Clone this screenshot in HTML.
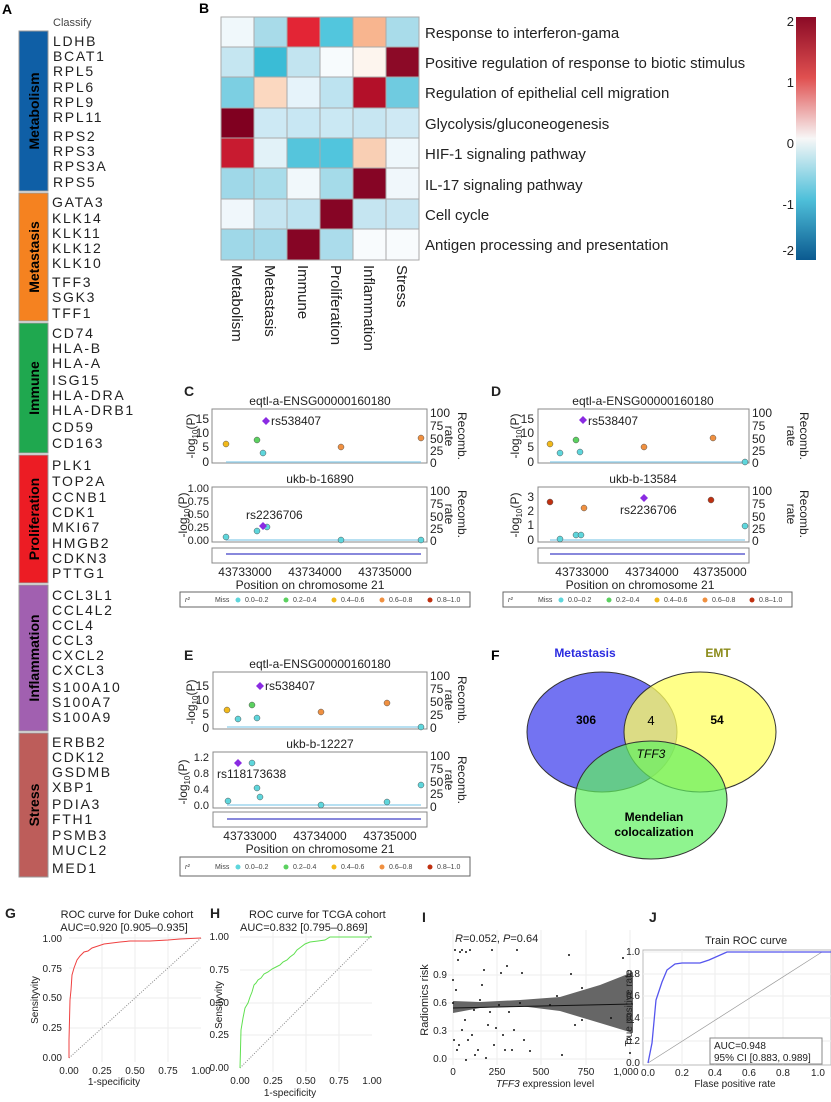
<!DOCTYPE html>
<html><head><meta charset="utf-8"><style>
html,body{margin:0;padding:0;background:#fff}
svg{display:block;font-family:"Liberation Sans",sans-serif}
</style></head><body>
<svg width="831" height="1102" viewBox="0 0 831 1102" xmlns="http://www.w3.org/2000/svg">
<!-- Panel A -->
<text x="2" y="14" font-size="14" font-weight="bold">A</text>
<text x="53" y="26" font-size="11" fill="#444">Classify</text>
<rect x="19" y="31" width="29" height="160" fill="#0f5fa6" stroke="#999"/>
<rect x="19" y="193" width="29" height="128" fill="#f58220" stroke="#999"/>
<rect x="19" y="323" width="29" height="130" fill="#1fa84f" stroke="#999"/>
<rect x="19" y="455" width="29" height="128" fill="#ec1c24" stroke="#999"/>
<rect x="19" y="585" width="29" height="146" fill="#a160b0" stroke="#999"/>
<rect x="19" y="733" width="29" height="144" fill="#bd5d5a" stroke="#999"/>
<g font-size="14" font-weight="bold" fill="#000">
<text transform="translate(39,111) rotate(-90)" text-anchor="middle">Metabolism</text>
<text transform="translate(39,257) rotate(-90)" text-anchor="middle">Metastasis</text>
<text transform="translate(39,388) rotate(-90)" text-anchor="middle">Immune</text>
<text transform="translate(39,519) rotate(-90)" text-anchor="middle">Proliferation</text>
<text transform="translate(39,658) rotate(-90)" text-anchor="middle">Inflammation</text>
<text transform="translate(39,805) rotate(-90)" text-anchor="middle">Stress</text>
</g>
<g font-size="14" fill="#222" letter-spacing="1.7">
<text x="53" y="46">LDHB</text><text x="53" y="61">BCAT1</text><text x="53" y="76">RPL5</text><text x="53" y="92">RPL6</text><text x="53" y="107">RPL9</text><text x="53" y="122">RPL11</text><text x="53" y="141">RPS2</text><text x="53" y="156">RPS3</text><text x="53" y="171">RPS3A</text><text x="53" y="187">RPS5</text>
<text x="52" y="207">GATA3</text><text x="52" y="223">KLK14</text><text x="52" y="238">KLK11</text><text x="52" y="253">KLK12</text><text x="52" y="268">KLK10</text><text x="52" y="287">TFF3</text><text x="52" y="302">SGK3</text><text x="52" y="318">TFF1</text>
<text x="52" y="338">CD74</text><text x="52" y="353">HLA-B</text><text x="52" y="368">HLA-A</text><text x="52" y="385">ISG15</text><text x="52" y="400">HLA-DRA</text><text x="52" y="415">HLA-DRB1</text><text x="52" y="432">CD59</text><text x="52" y="448">CD163</text>
<text x="52" y="470">PLK1</text><text x="52" y="486">TOP2A</text><text x="52" y="502">CCNB1</text><text x="52" y="517">CDK1</text><text x="52" y="532">MKI67</text><text x="52" y="548">HMGB2</text><text x="52" y="563">CDKN3</text><text x="52" y="578">PTTG1</text>
<text x="52" y="600">CCL3L1</text><text x="52" y="615">CCL4L2</text><text x="52" y="630">CCL4</text><text x="52" y="645">CCL3</text><text x="52" y="660">CXCL2</text><text x="52" y="675">CXCL3</text><text x="52" y="692">S100A10</text><text x="52" y="707">S100A7</text><text x="52" y="722">S100A9</text>
<text x="52" y="747">ERBB2</text><text x="52" y="762">CDK12</text><text x="52" y="777">GSDMB</text><text x="52" y="792">XBP1</text><text x="52" y="809">PDIA3</text><text x="52" y="824">FTH1</text><text x="52" y="840">PSMB3</text><text x="52" y="855">MUCL2</text><text x="52" y="873">MED1</text>
</g>
<!-- Panel B -->
<text x="199" y="13" font-size="14" font-weight="bold">B</text>
<g stroke="#aaa" stroke-width="1">
<rect x="221" y="17" width="33" height="30" fill="#f0f8fb"/><rect x="254" y="17" width="33" height="30" fill="#a8dbe9"/><rect x="287" y="17" width="33" height="30" fill="#e32535"/><rect x="320" y="17" width="33" height="30" fill="#52c6dd"/><rect x="353" y="17" width="33" height="30" fill="#f8b58f"/><rect x="386" y="17" width="33" height="30" fill="#a9dcea"/>
<rect x="221" y="47" width="33" height="30" fill="#c5e6f1"/><rect x="254" y="47" width="33" height="30" fill="#3abcd6"/><rect x="287" y="47" width="33" height="30" fill="#c2e4f0"/><rect x="320" y="47" width="33" height="30" fill="#f7fbfd"/><rect x="353" y="47" width="33" height="30" fill="#fdf5ee"/><rect x="386" y="47" width="33" height="30" fill="#8c0a27"/>
<rect x="221" y="77" width="33" height="31" fill="#7ccfe2"/><rect x="254" y="77" width="33" height="31" fill="#fbd8c0"/><rect x="287" y="77" width="33" height="31" fill="#e6f3fa"/><rect x="320" y="77" width="33" height="31" fill="#bde3f0"/><rect x="353" y="77" width="33" height="31" fill="#b31029"/><rect x="386" y="77" width="33" height="31" fill="#6fcbe0"/>
<rect x="221" y="108" width="33" height="30" fill="#800020"/><rect x="254" y="108" width="33" height="30" fill="#cde9f4"/><rect x="287" y="108" width="33" height="30" fill="#c8e7f3"/><rect x="320" y="108" width="33" height="30" fill="#cae8f3"/><rect x="353" y="108" width="33" height="30" fill="#c7e6f2"/><rect x="386" y="108" width="33" height="30" fill="#cfe9f4"/>
<rect x="221" y="138" width="33" height="30" fill="#c81b30"/><rect x="254" y="138" width="33" height="30" fill="#e2f2f8"/><rect x="287" y="138" width="33" height="30" fill="#55c5dc"/><rect x="320" y="138" width="33" height="30" fill="#51c5dd"/><rect x="353" y="138" width="33" height="30" fill="#f9cfb4"/><rect x="386" y="138" width="33" height="30" fill="#eef7fb"/>
<rect x="221" y="168" width="33" height="31" fill="#9fd8e8"/><rect x="254" y="168" width="33" height="31" fill="#a8dcea"/><rect x="287" y="168" width="33" height="31" fill="#f1f8fb"/><rect x="320" y="168" width="33" height="31" fill="#a5dbe9"/><rect x="353" y="168" width="33" height="31" fill="#860525"/><rect x="386" y="168" width="33" height="31" fill="#f0f7fb"/>
<rect x="221" y="199" width="33" height="30" fill="#f0f7fb"/><rect x="254" y="199" width="33" height="30" fill="#c5e5f1"/><rect x="287" y="199" width="33" height="30" fill="#bee3f0"/><rect x="320" y="199" width="33" height="30" fill="#860525"/><rect x="353" y="199" width="33" height="30" fill="#c5e5f1"/><rect x="386" y="199" width="33" height="30" fill="#c8e6f2"/>
<rect x="221" y="229" width="33" height="31" fill="#9fd8e8"/><rect x="254" y="229" width="33" height="31" fill="#a3d9e9"/><rect x="287" y="229" width="33" height="31" fill="#860525"/><rect x="320" y="229" width="33" height="31" fill="#abdceb"/><rect x="353" y="229" width="33" height="31" fill="#f8fbfd"/><rect x="386" y="229" width="33" height="31" fill="#f8fbfd"/>
</g>
<g font-size="15" fill="#222">
<text x="425" y="38">Response to interferon-gama</text>
<text x="425" y="68">Positive regulation of response to biotic stimulus</text>
<text x="425" y="98">Regulation of epithelial cell migration</text>
<text x="425" y="129">Glycolysis/gluconeogenesis</text>
<text x="425" y="159">HIF-1 signaling pathway</text>
<text x="425" y="190">IL-17 signaling pathway</text>
<text x="425" y="220">Cell cycle</text>
<text x="425" y="250">Antigen processing and presentation</text>
</g>
<g font-size="15" fill="#222">
<text transform="translate(232,265) rotate(90)">Metabolism</text>
<text transform="translate(265,265) rotate(90)">Metastasis</text>
<text transform="translate(298,265) rotate(90)">Immune</text>
<text transform="translate(331,265) rotate(90)">Proliferation</text>
<text transform="translate(364,265) rotate(90)">Inflammation</text>
<text transform="translate(397,265) rotate(90)">Stress</text>
</g>
<defs><linearGradient id="cb" x1="0" y1="0" x2="0" y2="1">
<stop offset="0" stop-color="#8b0a26"/><stop offset="0.25" stop-color="#e05050"/><stop offset="0.5" stop-color="#f7f7f7"/><stop offset="0.75" stop-color="#4fc0da"/><stop offset="1" stop-color="#0b5a90"/></linearGradient></defs>
<rect x="796" y="17" width="20" height="243" fill="url(#cb)"/>
<g font-size="13" fill="#222"><text x="794" y="26" text-anchor="end">2</text><text x="794" y="87" text-anchor="end">1</text><text x="794" y="148" text-anchor="end">0</text><text x="794" y="209" text-anchor="end">-1</text><text x="794" y="255" text-anchor="end">-2</text></g>

<g font-size="12" fill="#222">
<!-- C -->
<text x="184" y="396" font-size="14" font-weight="bold">C</text>
<text x="320" y="405" text-anchor="middle" font-size="12">eqtl-a-ENSG00000160180</text>
<rect x="212" y="409" width="215" height="54" fill="none" stroke="#888"/>
<line x1="226" y1="462" x2="421" y2="462" stroke="#9fd6ee" stroke-width="1.5"/>
<text x="209" y="423" text-anchor="end">15</text><text x="209" y="437" text-anchor="end">10</text><text x="209" y="451" text-anchor="end">5</text><text x="209" y="466" text-anchor="end">0</text>
<text x="430" y="417">100</text><text x="430" y="430">75</text><text x="430" y="443">50</text><text x="430" y="455">25</text><text x="430" y="467">0</text>
<text transform="translate(195,436) rotate(-90)" text-anchor="middle">-log<tspan font-size="8" dy="3">10</tspan><tspan dy="-3">(P)</tspan></text>
<text transform="translate(458,436) rotate(90)" text-anchor="middle">Recomb.</text><text transform="translate(445,436) rotate(90)" text-anchor="middle">rate</text>
<circle cx="226" cy="444" r="3" fill="#f2b91a" stroke="#555" stroke-width=".5"/><circle cx="257" cy="440" r="3" fill="#5bd160" stroke="#555" stroke-width=".5"/><circle cx="263" cy="453" r="3" fill="#5ed6dc" stroke="#555" stroke-width=".5"/><circle cx="341" cy="447" r="3" fill="#f09040" stroke="#555" stroke-width=".5"/><circle cx="421" cy="438" r="3" fill="#f09040" stroke="#555" stroke-width=".5"/>
<path d="M266 417 l4 4 -4 4 -4 -4z" fill="#8a2be2"/><text x="271" y="425">rs538407</text>
<text x="320" y="483" text-anchor="middle">ukb-b-16890</text>
<rect x="212" y="487" width="215" height="55" fill="none" stroke="#888"/>
<line x1="226" y1="540" x2="421" y2="540" stroke="#9fd6ee" stroke-width="1.5"/>
<g font-size="11"><text x="209" y="492" text-anchor="end">1.00</text><text x="209" y="505" text-anchor="end">0.75</text><text x="209" y="518" text-anchor="end">0.50</text><text x="209" y="531" text-anchor="end">0.25</text><text x="209" y="544" text-anchor="end">0.00</text></g>
<text transform="translate(187,515) rotate(-90)" text-anchor="middle">-log<tspan font-size="8" dy="3">10</tspan><tspan dy="-3">(P)</tspan></text>
<text x="430" y="495">100</text><text x="430" y="508">75</text><text x="430" y="521">50</text><text x="430" y="533">25</text><text x="430" y="545">0</text>
<text transform="translate(458,514) rotate(90)" text-anchor="middle">Recomb.</text><text transform="translate(445,514) rotate(90)" text-anchor="middle">rate</text>
<circle cx="226" cy="537" r="3" fill="#5ed6dc" stroke="#555" stroke-width=".5"/><circle cx="257" cy="531" r="3" fill="#5ed6dc" stroke="#555" stroke-width=".5"/><circle cx="267" cy="527" r="3" fill="#5ed6dc" stroke="#555" stroke-width=".5"/><circle cx="341" cy="540" r="3" fill="#5ed6dc" stroke="#555" stroke-width=".5"/><circle cx="421" cy="540" r="3" fill="#5ed6dc" stroke="#555" stroke-width=".5"/>
<path d="M263 522 l4 4 -4 4 -4 -4z" fill="#8a2be2"/><text x="246" y="519">rs2236706</text>
<rect x="212" y="548" width="215" height="15" fill="none" stroke="#888"/><line x1="226" y1="554" x2="421" y2="554" stroke="#6060d0" stroke-width="1.5"/>
<text x="245" y="576" text-anchor="middle">43733000</text><text x="315" y="576" text-anchor="middle">43734000</text><text x="385" y="576" text-anchor="middle">43735000</text>
<text x="310" y="589" text-anchor="middle">Position on chromosome 21</text>
<rect x="180" y="592" width="290" height="15" fill="none" stroke="#666"/>
<g font-size="7" fill="#444"><text x="185" y="602" font-style="italic">r²</text><text x="215" y="602">Miss</text><circle cx="238" cy="600" r="2.5" fill="#5ed6dc"/><text x="245" y="602">0.0–0.2</text><circle cx="286" cy="600" r="2.5" fill="#5bd160"/><text x="293" y="602">0.2–0.4</text><circle cx="334" cy="600" r="2.5" fill="#f2b91a"/><text x="341" y="602">0.4–0.6</text><circle cx="382" cy="600" r="2.5" fill="#f09040"/><text x="389" y="602">0.6–0.8</text><circle cx="430" cy="600" r="2.5" fill="#c03010"/><text x="437" y="602">0.8–1.0</text></g>

<!-- D -->
<text x="491" y="396" font-size="14" font-weight="bold">D</text>
<text x="643" y="405" text-anchor="middle">eqtl-a-ENSG00000160180</text>
<rect x="538" y="409" width="211" height="54" fill="none" stroke="#888"/>
<line x1="550" y1="462" x2="745" y2="462" stroke="#9fd6ee" stroke-width="1.5"/>
<text x="534" y="423" text-anchor="end">15</text><text x="534" y="437" text-anchor="end">10</text><text x="534" y="451" text-anchor="end">5</text><text x="534" y="466" text-anchor="end">0</text>
<text transform="translate(519,436) rotate(-90)" text-anchor="middle">-log<tspan font-size="8" dy="3">10</tspan><tspan dy="-3">(P)</tspan></text>
<text x="752" y="417">100</text><text x="752" y="430">75</text><text x="752" y="443">50</text><text x="752" y="455">25</text><text x="752" y="467">0</text>
<text transform="translate(800,436) rotate(90)" text-anchor="middle">Recomb.</text><text transform="translate(787,436) rotate(90)" text-anchor="middle">rate</text>
<circle cx="550" cy="444" r="3" fill="#f2b91a" stroke="#555" stroke-width=".5"/><circle cx="560" cy="453" r="3" fill="#5ed6dc" stroke="#555" stroke-width=".5"/><circle cx="576" cy="440" r="3" fill="#5bd160" stroke="#555" stroke-width=".5"/><circle cx="580" cy="452" r="3" fill="#5ed6dc" stroke="#555" stroke-width=".5"/><circle cx="644" cy="447" r="3" fill="#f09040" stroke="#555" stroke-width=".5"/><circle cx="713" cy="438" r="3" fill="#f09040" stroke="#555" stroke-width=".5"/><circle cx="745" cy="462" r="3" fill="#5ed6dc" stroke="#555" stroke-width=".5"/>
<path d="M583 416 l4 4 -4 4 -4 -4z" fill="#8a2be2"/><text x="588" y="425">rs538407</text>
<text x="643" y="483" text-anchor="middle">ukb-b-13584</text>
<rect x="538" y="487" width="211" height="55" fill="none" stroke="#888"/>
<line x1="550" y1="540" x2="745" y2="540" stroke="#9fd6ee" stroke-width="1.5"/>
<text x="534" y="501" text-anchor="end">3</text><text x="534" y="515" text-anchor="end">2</text><text x="534" y="529" text-anchor="end">1</text><text x="534" y="544" text-anchor="end">0</text>
<text transform="translate(519,515) rotate(-90)" text-anchor="middle">-log<tspan font-size="8" dy="3">10</tspan><tspan dy="-3">(P)</tspan></text>
<text x="752" y="495">100</text><text x="752" y="508">75</text><text x="752" y="521">50</text><text x="752" y="533">25</text><text x="752" y="545">0</text>
<text transform="translate(800,514) rotate(90)" text-anchor="middle">Recomb.</text><text transform="translate(787,514) rotate(90)" text-anchor="middle">rate</text>
<circle cx="550" cy="502" r="3" fill="#c03010" stroke="#555" stroke-width=".5"/><circle cx="560" cy="539" r="3" fill="#5ed6dc" stroke="#555" stroke-width=".5"/><circle cx="584" cy="508" r="3" fill="#f09040" stroke="#555" stroke-width=".5"/><circle cx="576" cy="535" r="3" fill="#5ed6dc" stroke="#555" stroke-width=".5"/><circle cx="581" cy="535" r="3" fill="#5ed6dc" stroke="#555" stroke-width=".5"/><circle cx="711" cy="500" r="3" fill="#c03010" stroke="#555" stroke-width=".5"/><circle cx="745" cy="526" r="3" fill="#5ed6dc" stroke="#555" stroke-width=".5"/>
<path d="M644 494 l4 4 -4 4 -4 -4z" fill="#8a2be2"/><text x="620" y="514">rs2236706</text>
<rect x="538" y="548" width="211" height="15" fill="none" stroke="#888"/><line x1="550" y1="554" x2="745" y2="554" stroke="#6060d0" stroke-width="1.5"/>
<text x="582" y="576" text-anchor="middle">43733000</text><text x="652" y="576" text-anchor="middle">43734000</text><text x="720" y="576" text-anchor="middle">43735000</text>
<text x="640" y="589" text-anchor="middle">Position on chromosome 21</text>
<rect x="503" y="592" width="289" height="15" fill="none" stroke="#666"/>
<g font-size="7" fill="#444"><text x="508" y="602" font-style="italic">r²</text><text x="538" y="602">Miss</text><circle cx="561" cy="600" r="2.5" fill="#5ed6dc"/><text x="568" y="602">0.0–0.2</text><circle cx="609" cy="600" r="2.5" fill="#5bd160"/><text x="616" y="602">0.2–0.4</text><circle cx="657" cy="600" r="2.5" fill="#f2b91a"/><text x="664" y="602">0.4–0.6</text><circle cx="705" cy="600" r="2.5" fill="#f09040"/><text x="712" y="602">0.6–0.8</text><circle cx="752" cy="600" r="2.5" fill="#c03010"/><text x="759" y="602">0.8–1.0</text></g>

<!-- E -->
<text x="184" y="660" font-size="14" font-weight="bold">E</text>
<text x="320" y="668" text-anchor="middle">eqtl-a-ENSG00000160180</text>
<rect x="213" y="672" width="214" height="57" fill="none" stroke="#888"/>
<line x1="227" y1="727" x2="421" y2="727" stroke="#9fd6ee" stroke-width="1.5"/>
<text x="209" y="690" text-anchor="end">15</text><text x="209" y="704" text-anchor="end">10</text><text x="209" y="718" text-anchor="end">5</text><text x="209" y="732" text-anchor="end">0</text>
<text transform="translate(195,702) rotate(-90)" text-anchor="middle">-log<tspan font-size="8" dy="3">10</tspan><tspan dy="-3">(P)</tspan></text>
<text x="430" y="680">100</text><text x="430" y="693">75</text><text x="430" y="706">50</text><text x="430" y="719">25</text><text x="430" y="732">0</text>
<text transform="translate(458,700) rotate(90)" text-anchor="middle">Recomb.</text><text transform="translate(445,700) rotate(90)" text-anchor="middle">rate</text>
<circle cx="227" cy="710" r="3" fill="#f2b91a" stroke="#555" stroke-width=".5"/><circle cx="238" cy="719" r="3" fill="#5ed6dc" stroke="#555" stroke-width=".5"/><circle cx="252" cy="705" r="3" fill="#5bd160" stroke="#555" stroke-width=".5"/><circle cx="257" cy="718" r="3" fill="#5ed6dc" stroke="#555" stroke-width=".5"/><circle cx="321" cy="712" r="3" fill="#f09040" stroke="#555" stroke-width=".5"/><circle cx="387" cy="703" r="3" fill="#f09040" stroke="#555" stroke-width=".5"/><circle cx="421" cy="727" r="3" fill="#5ed6dc" stroke="#555" stroke-width=".5"/>
<path d="M260 682 l4 4 -4 4 -4 -4z" fill="#8a2be2"/><text x="265" y="690">rs538407</text>
<text x="320" y="748" text-anchor="middle">ukb-b-12227</text>
<rect x="213" y="752" width="214" height="56" fill="none" stroke="#888"/>
<line x1="227" y1="805" x2="421" y2="805" stroke="#9fd6ee" stroke-width="1.5"/>
<g font-size="11"><text x="209" y="761" text-anchor="end">1.2</text><text x="209" y="777" text-anchor="end">0.8</text><text x="209" y="793" text-anchor="end">0.4</text><text x="209" y="809" text-anchor="end">0.0</text></g>
<text transform="translate(187,782) rotate(-90)" text-anchor="middle">-log<tspan font-size="8" dy="3">10</tspan><tspan dy="-3">(P)</tspan></text>
<text x="430" y="760">100</text><text x="430" y="773">75</text><text x="430" y="786">50</text><text x="430" y="798">25</text><text x="430" y="811">0</text>
<text transform="translate(458,780) rotate(90)" text-anchor="middle">Recomb.</text><text transform="translate(445,780) rotate(90)" text-anchor="middle">rate</text>
<circle cx="252" cy="763" r="3" fill="#5ed6dc" stroke="#555" stroke-width=".5"/><circle cx="257" cy="788" r="3" fill="#5ed6dc" stroke="#555" stroke-width=".5"/><circle cx="260" cy="797" r="3" fill="#5ed6dc" stroke="#555" stroke-width=".5"/><circle cx="228" cy="801" r="3" fill="#5ed6dc" stroke="#555" stroke-width=".5"/><circle cx="321" cy="805" r="3" fill="#5ed6dc" stroke="#555" stroke-width=".5"/><circle cx="387" cy="802" r="3" fill="#5ed6dc" stroke="#555" stroke-width=".5"/><circle cx="421" cy="785" r="3" fill="#5ed6dc" stroke="#555" stroke-width=".5"/>
<path d="M238 759 l4 4 -4 4 -4 -4z" fill="#8a2be2"/><text x="217" y="778">rs118173638</text>
<rect x="213" y="812" width="214" height="15" fill="none" stroke="#888"/><line x1="227" y1="819" x2="421" y2="819" stroke="#6060d0" stroke-width="1.5"/>
<text x="250" y="840" text-anchor="middle">43733000</text><text x="320" y="840" text-anchor="middle">43734000</text><text x="390" y="840" text-anchor="middle">43735000</text>
<text x="320" y="853" text-anchor="middle">Position on chromosome 21</text>
<rect x="180" y="857" width="290" height="19" fill="none" stroke="#666"/>
<g font-size="7" fill="#444"><text x="185" y="869" font-style="italic">r²</text><text x="215" y="869">Miss</text><circle cx="238" cy="867" r="2.5" fill="#5ed6dc"/><text x="245" y="869">0.0–0.2</text><circle cx="286" cy="867" r="2.5" fill="#5bd160"/><text x="293" y="869">0.2–0.4</text><circle cx="334" cy="867" r="2.5" fill="#f2b91a"/><text x="341" y="869">0.4–0.6</text><circle cx="382" cy="867" r="2.5" fill="#f09040"/><text x="389" y="869">0.6–0.8</text><circle cx="430" cy="867" r="2.5" fill="#c03010"/><text x="437" y="869">0.8–1.0</text></g>
</g>

<!-- F Venn -->
<text x="491" y="660" font-size="14" font-weight="bold">F</text>
<ellipse cx="602" cy="732" rx="75" ry="60" fill="#5a5af0" fill-opacity="0.85" stroke="#333"/>
<ellipse cx="700" cy="732" rx="76" ry="60" fill="#ffff60" fill-opacity="0.75" stroke="#333"/>
<ellipse cx="651" cy="800" rx="76" ry="59" fill="#60f060" fill-opacity="0.7" stroke="#333"/>
<g font-weight="bold" text-anchor="middle">
<text x="585" y="657" font-size="12" fill="#2a2ae0">Metastasis</text>
<text x="718" y="657" font-size="12" fill="#8b8b1a">EMT</text>
<text x="586" y="724" font-size="12">306</text>
<text x="651" y="725" font-size="13" font-weight="normal">4</text>
<text x="717" y="724" font-size="12">54</text>
<text x="651" y="758" font-size="12" font-style="italic" font-weight="normal">TFF3</text>
<text x="654" y="821" font-size="12">Mendelian</text>
<text x="654" y="836" font-size="12">colocalization</text>
</g>

<g font-size="10" fill="#222">
<!-- G -->
<text x="5" y="918" font-size="14" font-weight="bold">G</text>
<text x="127" y="918" text-anchor="middle" font-size="11">ROC curve for Duke cohort</text>
<text x="124" y="931" text-anchor="middle" font-size="11">AUC=0.920 [0.905–0.935]</text>
<g stroke="#eee"><line x1="69" y1="938" x2="201" y2="938"/><line x1="69" y1="968" x2="201" y2="968"/><line x1="69" y1="998" x2="201" y2="998"/><line x1="69" y1="1028" x2="201" y2="1028"/><line x1="102" y1="934" x2="102" y2="1062"/><line x1="135" y1="934" x2="135" y2="1062"/><line x1="168" y1="934" x2="168" y2="1062"/></g>
<line x1="69" y1="1058" x2="201" y2="938" stroke="#888" stroke-dasharray="1,1.5"/>
<polyline fill="none" stroke="#ef4040" stroke-width="1" points="69,1058 69,1040 70,1000 71,990 72,975 74,968 77,960 80,956 84,952 88,951 92,948 98,946 104,944 112,943 120,942 130,941 150,941 168,940 180,939 201,938"/>
<text x="62" y="942" text-anchor="end">1.00</text><text x="62" y="972" text-anchor="end">0.75</text><text x="62" y="1001" text-anchor="end">0.50</text><text x="62" y="1031" text-anchor="end">0.25</text><text x="62" y="1061" text-anchor="end">0.00</text>
<text x="69" y="1074" text-anchor="middle">0.00</text><text x="102" y="1074" text-anchor="middle">0.25</text><text x="135" y="1074" text-anchor="middle">0.50</text><text x="168" y="1074" text-anchor="middle">0.75</text><text x="201" y="1074" text-anchor="middle">1.00</text>
<text x="114" y="1085" text-anchor="middle">1-specificity</text>
<text transform="translate(38,1000) rotate(-90)" text-anchor="middle">Sensityvity</text>

<!-- H -->
<text x="210" y="918" font-size="14" font-weight="bold">H</text>
<text x="249" y="918" font-size="11">ROC curve for TCGA cohort</text>
<text x="240" y="931" font-size="11">AUC=0.832 [0.795–0.869]</text>
<g stroke="#eee"><line x1="240" y1="937" x2="372" y2="937"/><line x1="240" y1="970" x2="372" y2="970"/><line x1="240" y1="1003" x2="372" y2="1003"/><line x1="240" y1="1035" x2="372" y2="1035"/><line x1="273" y1="932" x2="273" y2="1072"/><line x1="306" y1="932" x2="306" y2="1072"/><line x1="339" y1="932" x2="339" y2="1072"/></g>
<line x1="240" y1="1068" x2="372" y2="935" stroke="#888" stroke-dasharray="1,1.5"/>
<polyline fill="none" stroke="#60e050" stroke-width="1" points="240,1068 241,1030 243,1018 245,1008 248,1003 250,997 252,992 254,985 256,983 258,980 261,978 264,974 268,972 272,969 276,967 280,965 283,962 287,960 290,957 294,954 297,950 301,947 305,944 310,942 318,941 325,940 330,937 340,937 372,937"/>
<text x="229" y="940" text-anchor="end">1.00</text><text x="229" y="973" text-anchor="end">0.75</text><text x="229" y="1006" text-anchor="end">0.50</text><text x="229" y="1038" text-anchor="end">0.25</text><text x="229" y="1071" text-anchor="end">0.00</text>
<text x="240" y="1084" text-anchor="middle">0.00</text><text x="273" y="1084" text-anchor="middle">0.25</text><text x="306" y="1084" text-anchor="middle">0.50</text><text x="339" y="1084" text-anchor="middle">0.75</text><text x="372" y="1084" text-anchor="middle">1.00</text>
<text x="290" y="1096" text-anchor="middle">1-specificity</text>
<text transform="translate(222,1005) rotate(-90)" text-anchor="middle">Sensityvity</text>

<!-- I -->
<text x="422" y="922" font-size="14" font-weight="bold">I</text>
<text x="455" y="942" font-size="11"><tspan font-style="italic">R</tspan>=0.052, <tspan font-style="italic">P</tspan>=0.64</text>
<g stroke="#eee"><line x1="448" y1="975" x2="633" y2="975"/><line x1="448" y1="1003" x2="633" y2="1003"/><line x1="448" y1="1031" x2="633" y2="1031"/><line x1="448" y1="1059" x2="633" y2="1059"/><line x1="453" y1="930" x2="453" y2="1065"/><line x1="497" y1="930" x2="497" y2="1065"/><line x1="541" y1="930" x2="541" y2="1065"/><line x1="586" y1="930" x2="586" y2="1065"/><line x1="630" y1="930" x2="630" y2="1065"/></g>
<polygon points="453,1001 480,1002 520,1000 560,997 600,985 633,972 633,1033 600,1023 560,1011 520,1006 480,1008 453,1013" fill="#666"/>
<line x1="453" y1="1008" x2="633" y2="1004" stroke="#111" stroke-width="1"/>
<g fill="#111">
<circle cx="453" cy="1003" r="1"/><circle cx="455" cy="950" r="1"/><circle cx="458" cy="960" r="1"/><circle cx="460" cy="952" r="1"/><circle cx="462" cy="950" r="1"/><circle cx="466" cy="952" r="1"/><circle cx="470" cy="950" r="1"/><circle cx="453" cy="980" r="1"/><circle cx="456" cy="990" r="1"/><circle cx="454" cy="1040" r="1"/><circle cx="457" cy="1050" r="1"/><circle cx="459" cy="1045" r="1"/><circle cx="462" cy="1030" r="1"/><circle cx="465" cy="1020" r="1"/><circle cx="468" cy="1040" r="1"/><circle cx="472" cy="1035" r="1"/><circle cx="475" cy="1055" r="1"/><circle cx="478" cy="1050" r="1"/><circle cx="480" cy="1000" r="1"/><circle cx="482" cy="985" r="1"/><circle cx="484" cy="970" r="1"/><circle cx="486" cy="1058" r="1"/><circle cx="488" cy="1025" r="1"/><circle cx="490" cy="1012" r="1"/><circle cx="492" cy="950" r="1"/><circle cx="494" cy="1045" r="1"/><circle cx="496" cy="1028" r="1"/><circle cx="499" cy="1005" r="1"/><circle cx="501" cy="973" r="1"/><circle cx="503" cy="1035" r="1"/><circle cx="505" cy="1050" r="1"/><circle cx="507" cy="966" r="1"/><circle cx="509" cy="1012" r="1"/><circle cx="512" cy="1050" r="1"/><circle cx="514" cy="1030" r="1"/><circle cx="517" cy="950" r="1"/><circle cx="520" cy="1003" r="1"/><circle cx="522" cy="973" r="1"/><circle cx="524" cy="1040" r="1"/><circle cx="530" cy="1051" r="1"/><circle cx="550" cy="1005" r="1"/><circle cx="557" cy="996" r="1"/><circle cx="562" cy="1055" r="1"/><circle cx="569" cy="955" r="1"/><circle cx="571" cy="974" r="1"/><circle cx="575" cy="1025" r="1"/><circle cx="582" cy="988" r="1"/><circle cx="582" cy="1020" r="1"/><circle cx="611" cy="1018" r="1"/><circle cx="623" cy="958" r="1"/><circle cx="630" cy="1053" r="1"/><circle cx="474" cy="1010" r="1"/><circle cx="466" cy="1060" r="1"/>
</g>
<text x="447" y="978" text-anchor="end">0.9</text><text x="447" y="1006" text-anchor="end">0.6</text><text x="447" y="1034" text-anchor="end">0.3</text><text x="447" y="1062" text-anchor="end">0.0</text>
<text x="453" y="1075" text-anchor="middle">0</text><text x="497" y="1075" text-anchor="middle">250</text><text x="541" y="1075" text-anchor="middle">500</text><text x="586" y="1075" text-anchor="middle">750</text><text x="626" y="1075" text-anchor="middle">1,000</text>
<text x="545" y="1087" text-anchor="middle"><tspan font-style="italic">TFF3</tspan> expression level</text>
<text transform="translate(428,1000) rotate(-90)" text-anchor="middle" font-size="11">Radiomics risk</text>

<!-- J -->
<text x="649" y="922" font-size="14" font-weight="bold">J</text>
<text x="705" y="944" font-size="11">Train ROC curve</text>
<rect x="643" y="950" width="188" height="115" fill="none" stroke="#bbb"/>
<g stroke="#eee"><line x1="643" y1="952" x2="831" y2="952"/><line x1="643" y1="974" x2="831" y2="974"/><line x1="643" y1="996" x2="831" y2="996"/><line x1="643" y1="1018" x2="831" y2="1018"/><line x1="643" y1="1041" x2="831" y2="1041"/><line x1="682" y1="950" x2="682" y2="1065"/><line x1="715" y1="950" x2="715" y2="1065"/><line x1="749" y1="950" x2="749" y2="1065"/><line x1="783" y1="950" x2="783" y2="1065"/></g>
<line x1="648" y1="1063" x2="822" y2="952" stroke="#999" stroke-width=".7"/>
<polyline fill="none" stroke="#5555ee" stroke-width="1.3" points="648,1063 652,1043 656,1000 662,982 667,970 675,964 682,963 700,963 703,962 709,960 727,952 831,952"/>
<text x="640" y="955" text-anchor="end">1.0</text><text x="640" y="977" text-anchor="end">0.8</text><text x="640" y="999" text-anchor="end">0.6</text><text x="640" y="1021" text-anchor="end">0.4</text><text x="640" y="1044" text-anchor="end">0.2</text><text x="640" y="1066" text-anchor="end">0.0</text>
<text x="648" y="1076" text-anchor="middle">0.0</text><text x="682" y="1076" text-anchor="middle">0.2</text><text x="715" y="1076" text-anchor="middle">0.4</text><text x="749" y="1076" text-anchor="middle">0.6</text><text x="783" y="1076" text-anchor="middle">0.8</text><text x="818" y="1076" text-anchor="middle">1.0</text>
<text x="735" y="1087" text-anchor="middle">Flase positive rate</text>
<text transform="translate(632,1008) rotate(-90)" text-anchor="middle">True positive rate</text>
<rect x="710" y="1038" width="112" height="26" fill="#fff" stroke="#888"/>
<text x="714" y="1049">AUC=0.948</text>
<text x="714" y="1061">95% CI [0.883, 0.989]</text>
</g>
</svg>
</body></html>
